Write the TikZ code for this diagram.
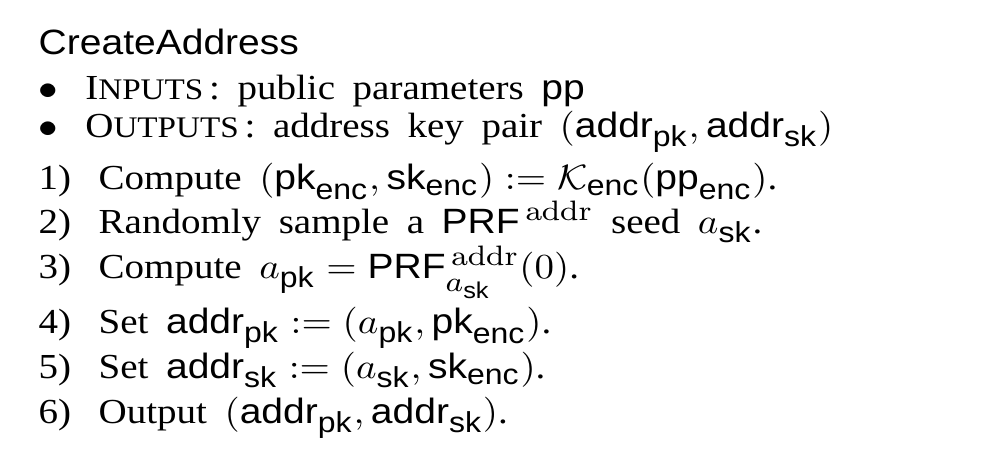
\documentclass[tikz,border=0pt]{standalone}
\usepackage{amsmath}
\usepackage[no-math]{fontspec}
\setmainfont{Liberation Serif}
\setsansfont{Liberation Sans}
\DeclareMathSizes{10}{10}{8.2}{6.5}
\newcommand{\sfm}[1]{\text{\sffamily #1}}
\newcommand{\fsc}[2]{#1{\fontsize{8.5}{10}\selectfont #2}\kern1.5pt}
\newcommand{\stepno}[1]{\makebox[0.54cm][l]{#1)}}
\newcommand{\widesp}{\spaceskip=4.5pt\relax}
\begin{document}
\begin{tikzpicture}[xscale=1.11, every node/.append style={transform shape},
  line/.style={anchor=base west, inner sep=0pt, font=\fontsize{10}{12}\selectfont\widesp}]
\useasboundingbox (0,0) rectangle (8.964,4.66);
\node [line] (title) at (0.342,4.11) {\sffamily CreateAddress};
\node [line] (inputs) at (0.342,3.66) {\makebox[0.42cm][l]{$\bullet$}\fsc{I}{NPUTS}: public parameters \sfm{pp}};
\node [line] (outputs) at (0.342,3.28) {\makebox[0.42cm][l]{$\bullet$}\fsc{O}{UTPUTS}: address key pair $(\sfm{addr}_{\sfm{pk}},\sfm{addr}_{\sfm{sk}})$};
\node [line] (step1) at (0.342,2.76) {\stepno{1}Compute $(\sfm{pk}_{\sfm{enc}},\sfm{sk}_{\sfm{enc}}) := \mathcal{K}_{\sfm{enc}}(\sfm{pp}_{\sfm{enc}})$.};
\node [line] (step2) at (0.342,2.32) {\stepno{2}Randomly sample a $\sfm{PRF}^{\,\mathrm{addr}}$ seed $a_{\sfm{sk}}$.};
\node [line] (step3) at (0.342,1.87) {\stepno{3}Compute $a_{\sfm{pk}} = \sfm{PRF}^{\,\mathrm{addr}}_{\vphantom{\sfm{A}}a_{\sfm{sk}}}(0)$.};
\node [line] (step4) at (0.342,1.32) {\stepno{4}Set $\sfm{addr}_{\sfm{pk}} := (a_{\sfm{pk}},\sfm{pk}_{\sfm{enc}})$.};
\node [line] (step5) at (0.342,0.87) {\stepno{5}Set $\sfm{addr}_{\sfm{sk}} := (a_{\sfm{sk}},\sfm{sk}_{\sfm{enc}})$.};
\node [line] (step6) at (0.342,0.42) {\stepno{6}Output $(\sfm{addr}_{\sfm{pk}},\sfm{addr}_{\sfm{sk}})$.};
\end{tikzpicture}
\end{document}
